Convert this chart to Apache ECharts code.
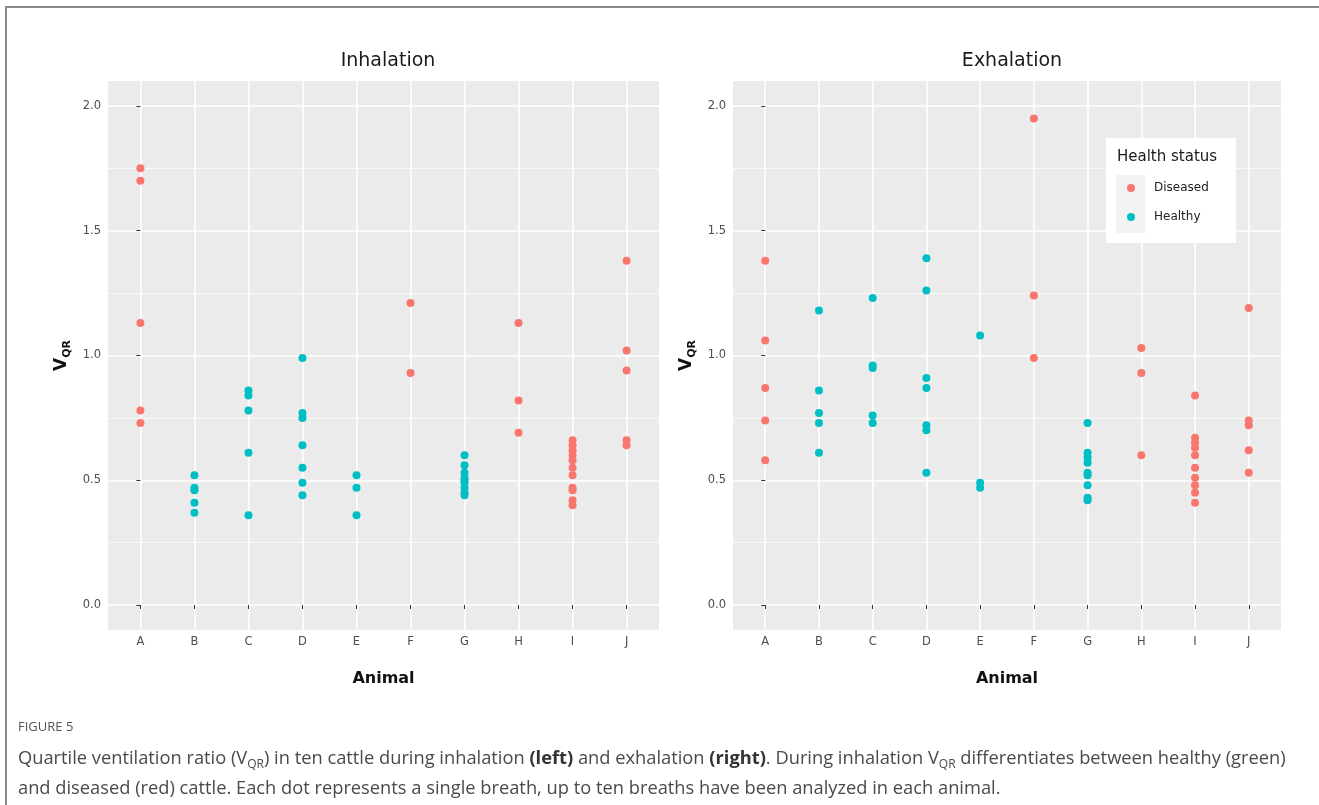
<!DOCTYPE html>
<html><head><meta charset="utf-8">
<script src="https://cdn.jsdelivr.net/npm/echarts@6/dist/echarts.min.js"></script>
<style>html,body{margin:0;padding:0;background:#fff}#c{width:1319px;height:805px}</style>
</head><body><div id="c"></div>
<script>
const animals = ['A','B','C','D','E','F','G','H','I','J'];
const healthStatus = ['Diseased','Healthy','Healthy','Healthy','Healthy','Diseased','Healthy','Diseased','Diseased','Diseased'];
const yTicks = [0, 0.5, 1, 1.5, 2];
const yMinorTicks = [0.25, 0.75, 1.25, 1.75];
const panelTitles = ['Inhalation', 'Exhalation'];

// Inhalation V_QR per animal
const inhA = [1.75, 1.70, 1.13, 0.78, 0.73];
const inhB = [0.52, 0.47, 0.46, 0.41, 0.37];
const inhC = [0.86, 0.84, 0.78, 0.61, 0.36];
const inhD = [0.99, 0.77, 0.75, 0.64, 0.55, 0.49, 0.44];
const inhE = [0.52, 0.47, 0.36];
const inhF = [1.21, 0.93];
const inhG = [0.60, 0.56, 0.53, 0.51, 0.50, 0.49, 0.47, 0.45, 0.44];
const inhH = [1.13, 0.82, 0.69];
const inhI = [0.66, 0.64, 0.62, 0.60, 0.58, 0.55, 0.52, 0.47, 0.46, 0.42, 0.40];
const inhJ = [1.38, 1.02, 0.94, 0.66, 0.64];

// Exhalation V_QR per animal
const exhA = [1.38, 1.06, 0.87, 0.74, 0.58];
const exhB = [1.18, 0.86, 0.77, 0.73, 0.61];
const exhC = [1.23, 0.96, 0.95, 0.76, 0.73];
const exhD = [1.39, 1.26, 0.91, 0.87, 0.72, 0.70, 0.53];
const exhE = [1.08, 0.49, 0.47];
const exhF = [1.95, 1.24, 0.99];
const exhG = [0.73, 0.61, 0.59, 0.57, 0.53, 0.52, 0.48, 0.43, 0.42];
const exhH = [1.03, 0.93, 0.60];
const exhI = [0.84, 0.67, 0.65, 0.63, 0.60, 0.55, 0.51, 0.48, 0.45, 0.41];
const exhJ = [1.19, 0.74, 0.72, 0.62, 0.53];

const inhalation = [inhA, inhB, inhC, inhD, inhE, inhF, inhG, inhH, inhI, inhJ];
const exhalation = [exhA, exhB, exhC, exhD, exhE, exhF, exhG, exhH, exhI, exhJ];

const COLORS = {Diseased: '#F8766D', Healthy: '#00BFC4'};
const FONT = 'DejaVu Sans';

function points(groups, st) {
  const out = [];
  groups.forEach((vals, i) => {
    if (healthStatus[i] === st) vals.forEach(v => out.push([i, v]));
  });
  return out;
}

const grids = [
  {left: 108, top: 81, width: 551, height: 549},
  {left: 733, top: 81, width: 548, height: 549}
].map(g => Object.assign(g, {show: true, backgroundColor: '#EBEBEB', borderWidth: 0}));

const xIdx = animals.map((_, k) => k);
const xAxes = [0, 1].map(i => ({
  type: 'value', gridIndex: i, min: -0.6, max: 9.6,
  axisLine: {show: false},
  axisTick: {show: true, customValues: xIdx, length: 4, lineStyle: {color: '#333', width: 1}},
  axisLabel: {customValues: xIdx, formatter: v => animals[Math.round(v)], color: '#4d4d4d', fontSize: 11.5, fontFamily: FONT, margin: 6},
  splitLine: {show: true, lineStyle: {color: '#fff', width: 1.6}},
  name: 'Animal', nameLocation: 'middle', nameGap: 41,
  nameTextStyle: {fontSize: 16, fontWeight: 'bold', color: '#111', fontFamily: FONT}
}));

const yAxes = [];
[0, 1].forEach(i => {
  yAxes.push({
    type: 'value', gridIndex: i, min: -0.1, max: 2.1, position: 'left',
    axisLine: {show: false},
    axisTick: {show: true, customValues: yTicks, length: 4, lineStyle: {color: '#333', width: 1}},
    axisLabel: {customValues: yTicks, formatter: v => v.toFixed(1), color: '#4d4d4d', fontSize: 11.5, fontFamily: FONT, margin: 7},
    splitLine: {show: true, lineStyle: {color: '#fff', width: 1.6}},
    name: '{v|V}{s|QR}', nameLocation: 'middle', nameRotate: 90, nameGap: 35,
    nameTextStyle: {
      rich: {
        v: {fontSize: 17, fontWeight: 'bold', color: '#111', fontFamily: FONT, lineHeight: 22},
        s: {fontSize: 11, fontWeight: 'bold', color: '#111', fontFamily: FONT, verticalAlign: 'bottom'}
      }
    }
  });
  yAxes.push({
    type: 'value', gridIndex: i, min: -0.1, max: 2.1, position: 'right',
    axisLine: {show: false},
    axisTick: {show: false, customValues: yMinorTicks},
    axisLabel: {show: false, customValues: yMinorTicks},
    splitLine: {show: true, lineStyle: {color: '#fff', width: 0.7}}
  });
});

const series = [];
[inhalation, exhalation].forEach((groups, i) => {
  ['Diseased', 'Healthy'].forEach(st => {
    series.push({
      type: 'scatter', name: st, xAxisIndex: i, yAxisIndex: i * 2,
      data: points(groups, st), symbol: 'circle', symbolSize: 8,
      itemStyle: {color: COLORS[st], opacity: 1}, z: 3
    });
  });
});

const CAP_FONT = '18.3px "Open Sans"';
const capRich = {
  s: {fontSize: 12, fontFamily: 'Open Sans', fill: '#4a4a4a', verticalAlign: 'bottom'},
  b: {fontSize: 18.3, fontFamily: 'Open Sans', fontWeight: 'bold', fill: '#333'}
};

const chart = echarts.init(document.getElementById('c'), null, {renderer: 'canvas'});
chart.setOption({
  animation: false,
  backgroundColor: '#fff',
  title: [
    {text: panelTitles[0], left: 383, top: 47, textAlign: 'center', textStyle: {fontSize: 19, fontWeight: 'normal', color: '#1a1a1a', fontFamily: FONT}},
    {text: panelTitles[1], left: 1007, top: 47, textAlign: 'center', textStyle: {fontSize: 19, fontWeight: 'normal', color: '#1a1a1a', fontFamily: FONT}}
  ],
  grid: grids,
  xAxis: xAxes,
  yAxis: yAxes,
  legend: {
    data: ['Diseased', 'Healthy'], orient: 'vertical', left: 1127, top: 182,
    icon: 'circle', itemWidth: 8, itemHeight: 8, itemGap: 17, z: 20, padding: 0,
    textStyle: {fontSize: 12, color: '#222', fontFamily: FONT, padding: [0, 0, 0, 14]}
  },
  graphic: [
    {type: 'polyline', z: 1, shape: {points: [[6, 805], [6, 7], [1319, 7]]}, style: {stroke: '#8a8a8a', lineWidth: 2, fill: null}},
    {type: 'rect', z: 10, shape: {x: 1106, y: 138, width: 130, height: 105}, style: {fill: '#fff'}},
    {type: 'rect', z: 11, shape: {x: 1116, y: 175, width: 29, height: 58}, style: {fill: '#F2F2F2'}},
    {type: 'text', z: 12, x: 1117, y: 157, style: {text: 'Health status', font: '15px "DejaVu Sans"', fill: '#1a1a1a', textVerticalAlign: 'middle'}},
    {type: 'text', z: 5, x: 18, y: 727, style: {text: 'FIGURE 5', font: '13px "Open Sans"', fill: '#555', textVerticalAlign: 'middle'}},
    {type: 'text', z: 5, x: 18, y: 759, style: {
      text: 'Quartile ventilation ratio (V{s|QR}) in ten cattle during inhalation {b|(left)} and exhalation {b|(right)}. During inhalation V{s|QR} differentiates between healthy (green)',
      font: CAP_FONT, fill: '#4a4a4a', textVerticalAlign: 'middle', lineHeight: 24,
      rich: capRich
    }},
    {type: 'text', z: 5, x: 18, y: 789, style: {
      text: 'and diseased (red) cattle. Each dot represents a single breath, up to ten breaths have been analyzed in each animal.',
      font: CAP_FONT, fill: '#4a4a4a', textVerticalAlign: 'middle'
    }}
  ],
  series: series
});
</script></body></html>
